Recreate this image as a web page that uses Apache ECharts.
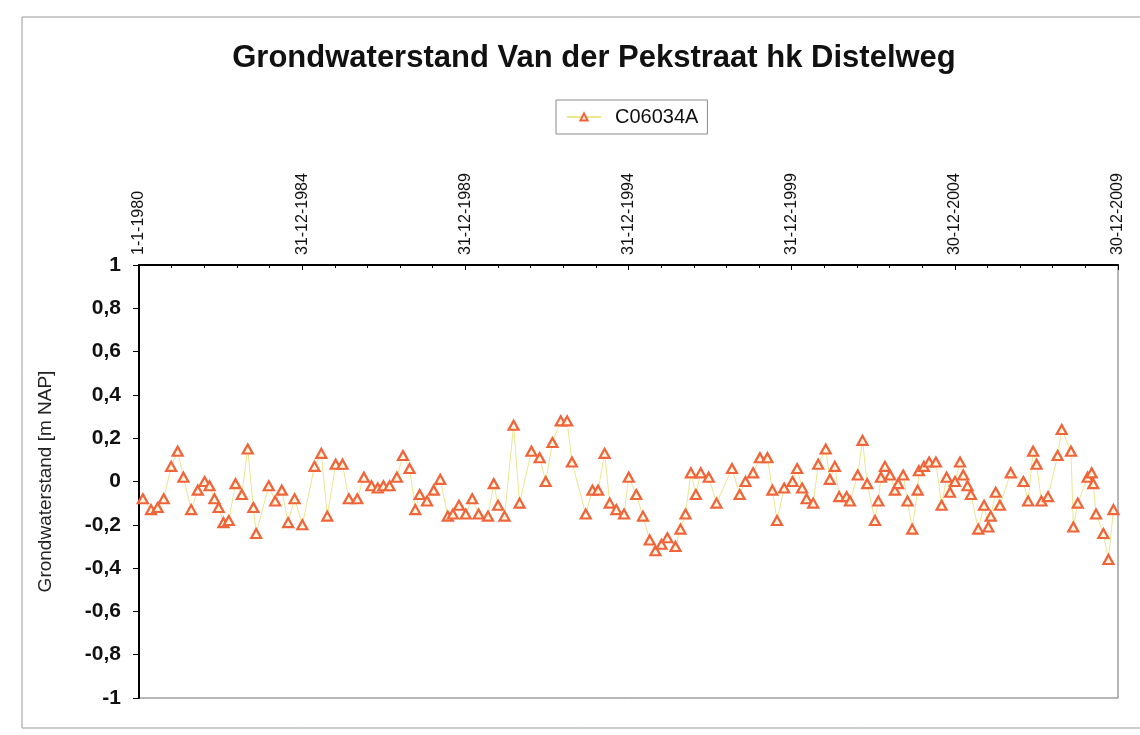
<!DOCTYPE html>
<html>
<head>
<meta charset="utf-8">
<script src="https://cdn.jsdelivr.net/npm/echarts@6/dist/echarts.min.js"></script>
<style>
  html, body { margin: 0; padding: 0; background: #ffffff; }
  #chart { width: 1140px; height: 735px; }
</style>
</head>
<body>
<div id="chart"></div>
<script>
// Grondwaterstand peilbuis C06034A (m t.o.v. NAP)
const seriesName = 'C06034A';

const measureDates = [
  '1980-02-13','1980-05-15','1980-07-28','1980-10-04','1980-12-26',
  '1981-03-09','1981-05-12','1981-08-07','1981-10-20',
  '1982-01-04','1982-02-28','1982-04-24','1982-06-11','1982-08-03','1982-10-02','1982-12-16',
  '1983-02-25','1983-05-02','1983-07-04','1983-08-04','1983-12-23',
  '1984-03-04','1984-05-17','1984-07-27','1984-10-07',
  '1985-01-02','1985-05-18','1985-08-02','1985-10-08',
  '1986-01-10','1986-03-28','1986-06-06','1986-09-09','1986-11-22',
  '1987-02-14','1987-04-26','1987-06-28','1987-09-05','1987-11-26',
  '1988-02-02','1988-04-16','1988-06-19','1988-08-07','1988-10-28',
  '1989-01-11','1989-03-25','1989-06-18','1989-08-14','1989-10-21',
  '1990-01-04','1990-03-18','1990-05-28','1990-09-11','1990-11-14',
  '1991-01-01','1991-03-15','1991-06-24','1991-08-30',
  '1992-01-10','1992-04-11','1992-06-17','1992-09-01','1992-12-03',
  '1993-02-12','1993-04-07','1993-09-08','1993-11-23',
  '1994-01-25','1994-04-08','1994-06-04','1994-08-17','1994-11-11',
  '1995-01-03','1995-03-28','1995-06-11','1995-08-25','1995-10-28',
  '1996-01-04','1996-03-10','1996-06-09','1996-08-04','1996-09-29','1996-11-28',
  '1997-01-23','1997-03-18','1997-06-16','1997-09-11',
  '1998-03-03','1998-05-28','1998-08-01','1998-10-25',
  '1999-01-10','1999-04-04','1999-05-29','1999-07-20','1999-10-08',
  '2000-01-10','2000-03-01','2000-04-26','2000-06-15','2000-08-28','2000-10-23',
  '2001-01-15','2001-03-02','2001-04-27','2001-06-15','2001-09-06','2001-10-13',
  '2002-01-08','2002-03-03','2002-04-24','2002-07-20','2002-08-27','2002-09-25','2002-11-09',
  '2003-01-05','2003-02-28','2003-04-06','2003-06-01','2003-07-19','2003-09-10','2003-11-10','2003-11-24',
  '2004-01-19','2004-03-17','2004-06-01','2004-08-04','2004-09-29','2004-11-06',
  '2005-01-01','2005-02-26','2005-04-03','2005-05-21','2005-06-28','2005-09-18','2005-11-22',
  '2006-01-09','2006-02-05','2006-04-01','2006-05-18','2006-09-16',
  '2007-02-05','2007-03-30','2007-05-25','2007-07-03','2007-08-26','2007-11-08',
  '2008-02-23','2008-04-09','2008-07-22','2008-08-17','2008-10-06',
  '2009-01-24','2009-03-10','2009-03-28','2009-04-28','2009-07-19','2009-09-14','2009-11-09'
];

const levels = [
  -0.08,-0.13,-0.12,-0.08,0.07,
  0.14,0.02,-0.13,-0.04,
  0.00,-0.02,-0.08,-0.12,-0.19,-0.18,-0.01,
  -0.06,0.15,-0.12,-0.24,-0.02,
  -0.09,-0.04,-0.19,-0.08,
  -0.20,0.07,0.13,-0.16,
  0.08,0.08,-0.08,-0.08,0.02,
  -0.02,-0.03,-0.02,-0.02,0.02,
  0.12,0.06,-0.13,-0.06,-0.09,
  -0.04,0.01,-0.16,-0.15,-0.11,
  -0.15,-0.08,-0.15,-0.16,-0.01,
  -0.11,-0.16,0.26,-0.10,
  0.14,0.11,0.00,0.18,0.28,
  0.28,0.09,-0.15,-0.04,
  -0.04,0.13,-0.10,-0.13,-0.15,
  0.02,-0.06,-0.16,-0.27,-0.32,
  -0.29,-0.26,-0.30,-0.22,-0.15,0.04,
  -0.06,0.04,0.02,-0.10,
  0.06,-0.06,0.00,0.04,
  0.11,0.11,-0.04,-0.18,-0.03,
  0.00,0.06,-0.03,-0.08,-0.10,0.08,
  0.15,0.01,0.07,-0.07,-0.07,-0.09,
  0.03,0.19,-0.01,-0.18,-0.09,0.02,0.07,
  0.03,-0.04,-0.01,0.03,-0.09,-0.22,-0.04,0.05,
  0.07,0.09,0.09,-0.11,0.02,-0.05,
  0.00,0.09,0.03,-0.02,-0.06,-0.22,-0.11,
  -0.21,-0.16,-0.05,-0.11,0.04,
  0.00,-0.09,0.14,0.08,-0.09,-0.07,
  0.12,0.24,0.14,-0.21,-0.10,
  0.02,0.04,-0.01,-0.15,-0.24,-0.36,-0.13
];

// date-axis ticks every 1826 days
const xTickDates = ['1980-01-01','1984-12-31','1989-12-31','1994-12-31','1999-12-31','2004-12-30','2009-12-30'];
const yTicks = [-1, -0.8, -0.6, -0.4, -0.2, 0, 0.2, 0.4, 0.6, 0.8, 1];

const toMs = s => { const p = s.split('-').map(Number); return Date.UTC(p[0], p[1] - 1, p[2]); };
const fmtDate = s => { const p = s.split('-').map(Number); return p[2] + '-' + p[1] + '-' + p[0]; };
const xTickMs = xTickDates.map(toMs);
const xMin = xTickMs[0];
const xMax = xTickMs[xTickMs.length - 1];
const xStep = xTickMs[1] - xTickMs[0];

const points = measureDates.map((d, i) => [toMs(d), levels[i]]);

const chart = echarts.init(document.getElementById('chart'), null, { renderer: 'canvas' });

chart.setOption({
  backgroundColor: '#ffffff',
  animation: false,
  title: {
    text: 'Grondwaterstand Van der Pekstraat hk Distelweg',
    left: 589,
    top: 38,
    textAlign: 'center',
    textStyle: { fontFamily: 'Liberation Sans, Arial, sans-serif', fontSize: 31, fontWeight: 'bold', color: '#111' }
  },
  legend: {
    left: 556,
    top: 100,
    padding: [7, 9, 7, 10],
    borderColor: '#8a8a8a',
    borderWidth: 1,
    itemWidth: 34,
    itemHeight: 9,
    textStyle: { fontFamily: 'Liberation Sans, Arial, sans-serif', fontSize: 20, color: '#111', padding: [0, 0, 0, 9] },
    data: [seriesName]
  },
  grid: {
    left: 139,
    right: 22,
    top: 265,
    bottom: 37,
    show: true,
    borderColor: '#6e6e6e',
    borderWidth: 1
  },
  xAxis: {
    type: 'value',
    position: 'top',
    min: xMin,
    max: xMax,
    interval: xStep,
    axisLine: { show: true, onZero: false, lineStyle: { color: '#000', width: 2 } },
    axisTick: { show: true, inside: true, length: 5, lineStyle: { color: '#000' } },
    minorTick: { show: true, splitNumber: 5, length: 3, lineStyle: { color: '#000' } },
    splitLine: { show: false },
    axisLabel: {
      rotate: -90,
      margin: 10,
      fontFamily: 'Liberation Sans, Arial, sans-serif',
      fontSize: 16,
      color: '#111',
      formatter: v => {
        const i = Math.round((v - xMin) / xStep);
        return xTickDates[i] ? fmtDate(xTickDates[i]) : '';
      }
    }
  },
  yAxis: {
    type: 'value',
    min: yTicks[0],
    max: yTicks[yTicks.length - 1],
    interval: 0.2,
    name: 'Grondwaterstand [m NAP]',
    nameLocation: 'middle',
    nameGap: 84,
    nameRotate: 90,
    nameTextStyle: { fontFamily: 'Liberation Sans, Arial, sans-serif', fontSize: 19, color: '#222' },
    axisLine: { show: true, onZero: false, lineStyle: { color: '#000', width: 2 } },
    axisTick: { show: true, length: 6, lineStyle: { color: '#000' } },
    splitLine: { show: false },
    axisLabel: {
      margin: 18,
      fontFamily: 'Liberation Sans, Arial, sans-serif',
      fontSize: 21,
      fontWeight: 'bold',
      color: '#111',
      formatter: v => String(Number(v.toFixed(1))).replace('.', ',')
    }
  },
  graphic: [
    { type: 'polyline', silent: true, shape: { points: [[1150, 17], [22, 17], [22, 728], [1150, 728]] },
      style: { fill: null, stroke: '#9a9a9a', lineWidth: 1 } }
  ],
  series: [{
    name: seriesName,
    type: 'line',
    data: points,
    symbol: 'triangle',
    symbolSize: [10, 9],
    showAllSymbol: true,
    lineStyle: { color: '#ebe78f', width: 1 },
    itemStyle: { color: '#fff8e0', borderColor: '#f0643c', borderWidth: 2.2 },
    emphasis: { disabled: true }
  }]
});
</script>
</body>
</html>
